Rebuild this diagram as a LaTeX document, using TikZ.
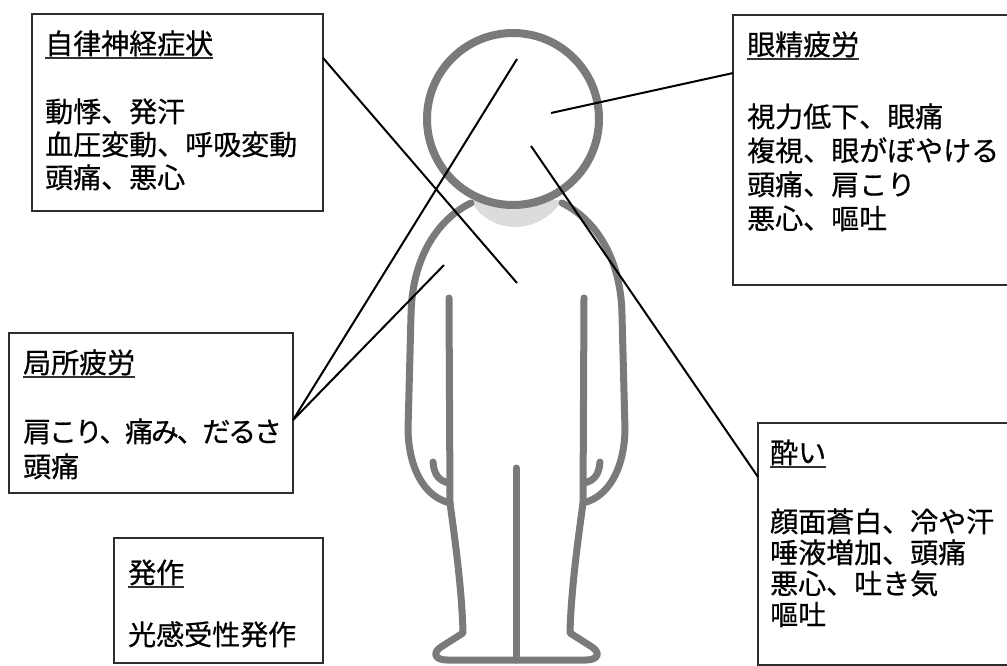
\documentclass[tikz,border=0pt]{standalone}
\usepackage{fontspec}
\setmainfont{Noto Sans CJK JP}[FakeBold=0.6]
\usetikzlibrary{calc}
\definecolor{figgray}{RGB}{122,122,122}
\definecolor{neckgray}{RGB}{220,220,220}
\definecolor{framecol}{RGB}{45,45,45}

\begin{document}
\begin{tikzpicture}[x=1pt,y=-1pt,
  figline/.style={draw=figgray, line width=7pt, line cap=round, line join=round},
  frame/.style={draw=framecol, line width=1.4pt, inner sep=0pt, outer sep=0pt, anchor=north west},
  txt/.style={anchor=base west, inner sep=0pt, font=\fontsize{28}{33}\selectfont},
  uline/.style={draw=black!80, line width=1.3pt},
  conn/.style={draw=black, line width=2pt}]
\useasboundingbox (0,0) rectangle (1007,666);
\clip (0,0) rectangle (1007,666);

% ---- figure: neck shading ----
\fill[neckgray] (470,200) .. controls (490,236) and (540,236) .. (562,200) -- cycle;

% ---- figure: body outline ----
\path[figline]
  (471,203) .. controls (440,218) and (412,255) .. (411,315)
  -- (408,430) .. controls (409,470) and (425,497) .. (450,503)
  .. controls (455,540) and (462,590) .. (463,633)
  -- (441,647) .. controls (432,653) and (435,660) .. (447,660)
  -- (586,660) .. controls (598,660) and (601,653) .. (592,647)
  -- (570,633) .. controls (571,590) and (578,540) .. (583,503)
  .. controls (608,497) and (624,470) .. (625,430)
  -- (622,315) .. controls (621,255) and (593,218) .. (562,203);
% inner arm lines
\path[figline] (449,298) -- (450,503);
\path[figline] (584,298) -- (583,503);
% thumbs
\path[figline] (433,462) .. controls (434,476) and (440,481) .. (449,483);
\path[figline] (600,462) .. controls (599,476) and (593,481) .. (584,483);
% legs divider
\path[figline] (516,468) -- (516,660);
% head
\path[figline, line width=8pt, fill=white] (513,119) circle[radius=86];

% ---- boxes ----
\node[frame, minimum width=291pt, minimum height=197pt] (bxA) at (32,14) {};
\node[frame, minimum width=290pt, minimum height=270pt] (bxB) at (733,15) {};
\node[frame, minimum width=284pt, minimum height=160pt] (bxC) at (9,333) {};
\node[frame, minimum width=209pt, minimum height=125pt] (bxD) at (114,538) {};
\node[frame, minimum width=265pt, minimum height=242pt] (bxE) at (758,423) {};

% ---- texts ----
\node[txt] (tA0) at (45,54) {自律神経症状};
\node[txt] (tA1) at (45,122) {動悸、発汗};
\node[txt] (tA2) at (45,155) {血圧変動、呼吸変動};
\node[txt] (tA3) at (45,188) {頭痛、悪心};
\draw[uline] ([yshift=-4pt]tA0.base west) -- ([yshift=-4pt]tA0.base east);

\node[txt] (tB0) at (747,55) {眼精疲労};
\node[txt] (tB1) at (747,127) {視力低下、眼痛};
\node[txt] (tB2) at (747,161) {複視、眼がぼやける};
\node[txt] (tB3) at (747,195) {頭痛、肩こり};
\node[txt] (tB4) at (747,229) {悪心、嘔吐};
\draw[uline] ([yshift=-4pt]tB0.base west) -- ([yshift=-4pt]tB0.base east);

\node[txt] (tC0) at (23,373) {局所疲労};
\node[txt] (tC1) at (23,442) {\addfontfeature{LetterSpace=-8}肩こり、痛み、だるさ};
\node[txt] (tC2) at (23,477) {頭痛};
\draw[uline] ([yshift=-4pt]tC0.base west) -- ([yshift=-4pt]tC0.base east);

\node[txt] (tD0) at (128,583) {発作};
\node[txt] (tD1) at (128,645) {光感受性発作};
\draw[uline] ([yshift=-4pt]tD0.base west) -- ([yshift=-4pt]tD0.base east);

\node[txt] (tE0) at (770,463) {酔い};
\node[txt] (tE1) at (770,532) {顔面蒼白、冷や汗};
\node[txt] (tE2) at (770,563) {唾液増加、頭痛};
\node[txt] (tE3) at (770,594) {悪心、吐き気};
\node[txt] (tE4) at (770,625) {嘔吐};
\draw[uline] ([yshift=-4pt]tE0.base west) -- ([yshift=-4pt]tE0.base east);

% ---- connectors ----
\coordinate (pA) at (517,283);
\coordinate (pB) at (551,113);
\coordinate (pC1) at (517,59);
\coordinate (pC2) at (444,265);
\coordinate (pE) at (531,146);
\path[conn] ($(bxA.north east)!0.223!(bxA.south east)$) -- (pA);
\path[conn] ($(bxB.north west)!0.215!(bxB.south west)$) -- (pB);
\path[conn] ($(bxC.north east)!0.544!(bxC.south east)$) -- (pC1);
\path[conn] ($(bxC.north east)!0.544!(bxC.south east)$) -- (pC2);
\path[conn] ($(bxE.north west)!0.223!(bxE.south west)$) -- (pE);
\end{tikzpicture}
\end{document}
